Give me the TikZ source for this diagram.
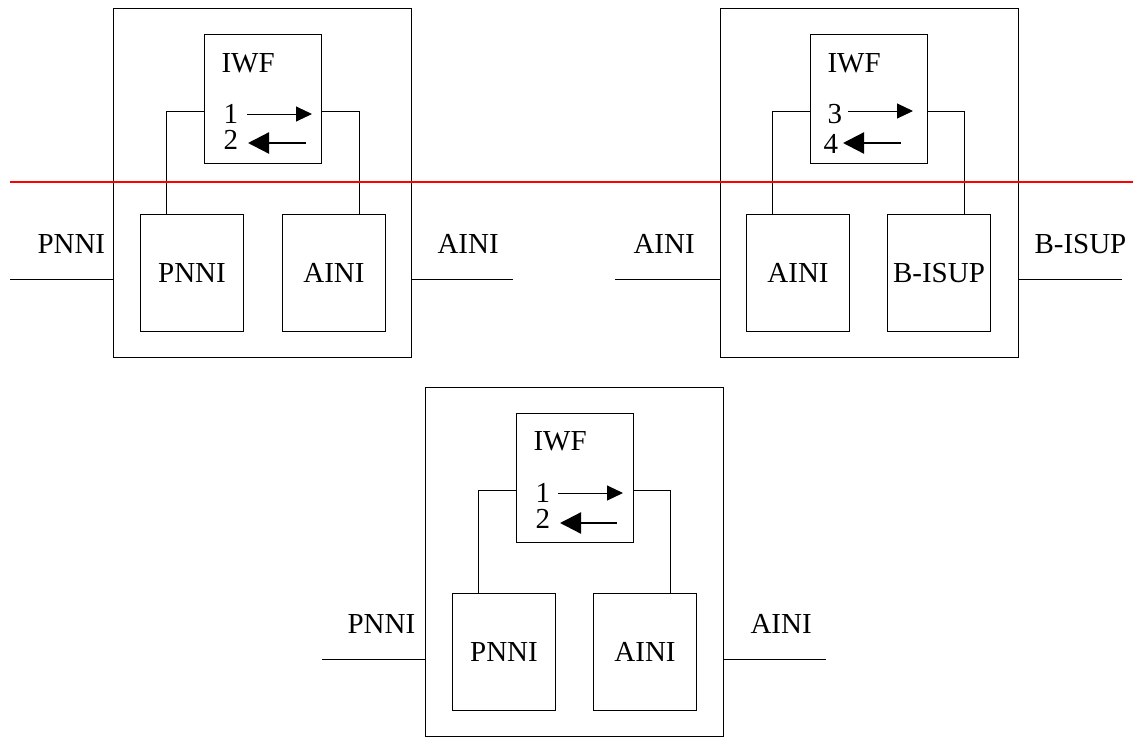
\documentclass[tikz,border=0pt]{standalone}
\usepackage{fontspec}
\setmainfont{Liberation Serif}[Ligatures=TeX]
\usetikzlibrary{positioning,arrows.meta,calc}

\tikzset{
  unitbox/.style={draw, anchor=north west, minimum width=298pt, minimum height=349pt, inner sep=0pt},
  iwfbox/.style={draw, minimum width=117pt, minimum height=129pt, inner sep=0pt},
  protobox/.style={draw, minimum width=103pt, minimum height=117pt, inner sep=0pt},
  lbl/.style={anchor=base west, inner sep=0pt},
  fwd/.style={-{Triangle[length=16pt,width=15pt]}, line width=1pt},
  bwd/.style={-{Triangle[length=21pt,width=21pt]}, line width=2.3pt},
}

\begin{document}
\begin{tikzpicture}[x=1pt,y=-1pt,font=\rmfamily\fontsize{29}{30}\selectfont,line width=1pt]
  \useasboundingbox (0,0) rectangle (1133,740);

  % PNNI - AINI, top left
  \node[unitbox] (uA) at (113,8) {};
  \node[iwfbox, below right=26pt and 91pt of uA.north west] (iwfA) {};
  \node[protobox, below right=206pt and 27pt of uA.north west] (pA) {PNNI};
  \node[protobox, below right=206pt and 169pt of uA.north west] (aA) {AINI};
  \node[lbl] (tA) at ($(iwfA.north west)+(17,38)$) {IWF};
  \node[lbl] (n1A) at ($(iwfA.north west)+(19,89)$) {1};
  \node[lbl] (n2A) at ($(iwfA.north west)+(19,115)$) {2};
  \draw[fwd] ($(iwfA.north west)+(43,80)$) -- ++(65,0);
  \draw[bwd] ($(iwfA.north west)+(102,109)$) -- ++(-58,0);
  \draw ($(iwfA.west)+(0,12.5)$) -| ($(pA.north)+(-25.5,0)$);
  \draw ($(iwfA.east)+(0,12.5)$) -| ($(aA.north)+(25.5,0)$);
  \draw ($(uA.west)+(0,96)$) -- ++(-103,0);
  \draw ($(uA.east)+(0,96)$) -- ++(101,0);
  \node[lbl] (lA) at (37,253) {PNNI};
  \node[lbl] (rA) at (437,253) {AINI};

  % AINI - B-ISUP, top right
  \node[unitbox] (uB) at (720,8) {};
  \node[iwfbox, below right=26pt and 90pt of uB.north west] (iwfB) {};
  \node[protobox, below right=206pt and 26pt of uB.north west] (pB) {AINI};
  \node[protobox, below right=206pt and 167pt of uB.north west] (aB) {B-ISUP};
  \node[lbl] (tB) at ($(iwfB.north west)+(17,38)$) {IWF};
  \node[lbl] (n1B) at ($(iwfB.north west)+(17,89)$) {3};
  \node[lbl] (n2B) at ($(iwfB.north west)+(13,119)$) {4};
  \draw[fwd] ($(iwfB.north west)+(38,77)$) -- ++(65,0);
  \draw[bwd] ($(iwfB.north west)+(91,109)$) -- ++(-58,0);
  \draw ($(iwfB.west)+(0,12.5)$) -| ($(pB.north)+(-25.5,0)$);
  \draw ($(iwfB.east)+(0,12.5)$) -| ($(aB.north)+(25.5,0)$);
  \draw ($(uB.west)+(0,96)$) -- ++(-105,0);
  \draw ($(uB.east)+(0,96)$) -- ++(103,0);
  \node[lbl] (lB) at (633,253) {AINI};
  \node[lbl] (rB) at (1034,253) {B-ISUP};

  % PNNI - AINI, bottom
  \node[unitbox] (uC) at (425,387) {};
  \node[iwfbox, below right=26pt and 91pt of uC.north west] (iwfC) {};
  \node[protobox, below right=206pt and 27pt of uC.north west] (pC) {PNNI};
  \node[protobox, below right=206pt and 168pt of uC.north west] (aC) {AINI};
  \node[lbl] (tC) at ($(iwfC.north west)+(17,37)$) {IWF};
  \node[lbl] (n1C) at ($(iwfC.north west)+(19,89)$) {1};
  \node[lbl] (n2C) at ($(iwfC.north west)+(19,115)$) {2};
  \draw[fwd] ($(iwfC.north west)+(42,80)$) -- ++(65,0);
  \draw[bwd] ($(iwfC.north west)+(101,110)$) -- ++(-57,0);
  \draw ($(iwfC.west)+(0,12)$) -| ($(pC.north)+(-25.5,0)$);
  \draw ($(iwfC.east)+(0,12)$) -| ($(aC.north)+(25.5,0)$);
  \draw ($(uC.west)+(0,97)$) -- ++(-103,0);
  \draw ($(uC.east)+(0,97)$) -- ++(102,0);
  \node[lbl] (lC) at (347,633) {PNNI};
  \node[lbl] (rC) at (750,633) {AINI};

  \draw[red, line width=1.3pt] (10,182) -- (1133,182);
\end{tikzpicture}
\end{document}
